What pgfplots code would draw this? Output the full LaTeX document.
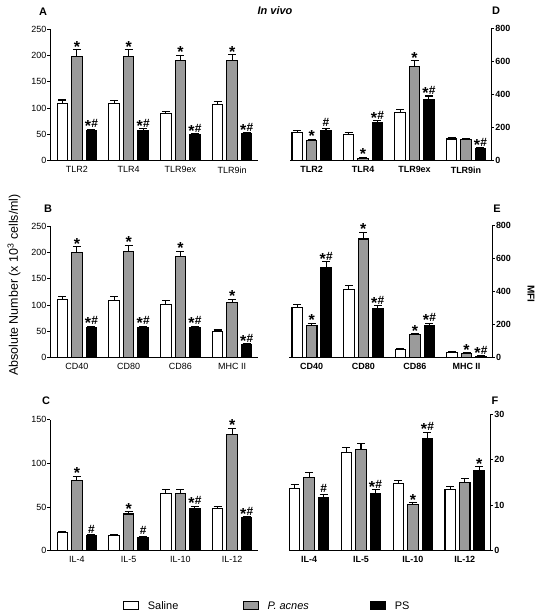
\documentclass[border=0pt]{standalone}
\usepackage{pgfplots}
\pgfplotsset{compat=1.18}
\usepackage{pgfplotstable}
\usepackage{fontspec}
\setmainfont{Liberation Sans}
\newcommand\fs[1]{\fontsize{#1}{#1}\selectfont}
\protected\def\st{\raisebox{-4bp}{\fontsize{16}{16}\selectfont\bfseries *}}
\protected\def\sh{{\fs{12}\bfseries\#}}
\protected\def\sa{\st\kern0.3bp\sh}
\definecolor{bgray}{RGB}{155,155,155}

\pgfplotsset{
 panel/.style={scale only axis, ymin=0, xtick={0,1,2,3}, x tick style={draw=none},
   tick align=outside, major tick length=2.5bp, axis line style={line width=0.8bp},
   y tick style={line width=0.8bp, black}, clip=false,
   /pgf/number format/assume math mode=true, axis x line*=bottom, xtick pos=bottom, xmax=3.5},
 lpanel/.style={panel, axis y line*=left, ytick pos=left, xmin=-0.52, width=208bp,
   tick label style={font=\fs{9}}, yticklabel style={inner xsep=1bp}},
 rpanel/.style={panel, axis y line*=right, ytick pos=right, yticklabel pos=right,
   tick label style={font=\bfseries\fs{9}}, yticklabel style={inner xsep=1bp}},
 bars/.style={ybar, bar width=10.5bp, bar shift=0pt, draw=black, line width=1.1bp,
   error bars/y dir=plus, error bars/y explicit,
   error bars/error bar style={line width=1.1bp,black},
   error bars/error mark options={rotate=90, line width=1.1bp, mark size=4bp, black},
   legend image code/.code={\draw[##1, line width=1bp] (0bp,-4bp) rectangle (15bp,4bp);}},
 annot/.style={forget plot, only marks, mark=none, black, nodes near coords,
   point meta=explicit symbolic,
   nodes near coords style={anchor=base, yshift=1.5bp, inner sep=0pt, font=\fs{12}, black}},
}

\pgfplotstableread{
x s se g ge b be
0 109 115.5 199 211 57 60
1 109 115 199 211 58 61
2 89 93 190 201 50 51.5
3 107 112 190 202 51 53
}\tabA
\pgfplotstableread{
x s se g ge b be
0 171 181 123 129 185 196
1 161 169 16 22 232 242
2 290 308 569 605 371 391
3 131 139 129 135 73 77
}\tabD
\pgfplotstableread{
x s se g ge b be
0 110 117 199 211 57 60
1 108 116 201 213 57 60
2 101 108 192 202 57 60
3 49 52.5 104 111 25 26.5
}\tabB
\pgfplotstableread{
x s se g ge b be
0 302 322 196 206 547 581
1 413 439 719 759 298 314
2 49 53 136 144 196 206
3 28 34 22 28 6 10
}\tabE
\pgfplotstableread{
x s se g ge b be
0 21 22.5 80 85 17 18
1 17 18 42 44.7 15.6 16.5
2 66 70 66 70 48 51
3 48 51 133 140 38 39
}\tabC
\pgfplotstableread{
x s se g ge b be
0 13.7 14.5 16.1 17.2 11.7 12.4
1 21.6 22.7 22.3 23.5 12.6 13.4
2 14.7 15.5 10.1 10.6 24.6 26
3 13.4 14.1 15 15.8 17.6 18.5
}\tabF

\newcommand\threebars[1]{%
 \addplot[bars, fill=white] table[x expr=\thisrow{x}-0.28, y=s, y error expr=\thisrow{se}-\thisrow{s}] {#1};
 \addplot[bars, fill=bgray] table[x=x, y=g, y error expr=\thisrow{ge}-\thisrow{g}] {#1};
 \addplot[bars, fill=black] table[x expr=\thisrow{x}+0.28, y=b, y error expr=\thisrow{be}-\thisrow{b}] {#1};
}

\begin{document}
\begin{tikzpicture}
\useasboundingbox (0bp,0bp) rectangle (537bp,-615bp);

% Panel A
\begin{axis}[lpanel, at={(50bp,-160.7bp)}, anchor=south west, height=131.4bp,
  ymax=250, ytick={0,50,100,150,200,250}, xticklabels={TLR2,TLR4,TLR9ex,TLR9in}]
\threebars{\tabA}
\addplot[annot] coordinates {(0,211)[\st] (1,211)[\st] (2,201)[\st] (3,202)[\st]
  (0.28,60)[\sa] (1.28,61)[\sa] (2.28,51.5)[\sa] (3.28,53)[\sa]};
\end{axis}

% Panel D
\begin{axis}[rpanel, at={(290bp,-160.7bp)}, anchor=south west, width=201.7bp, height=132.4bp,
  xmin=-0.42, ymax=800, ytick={0,200,400,600,800}, xticklabels={TLR2,TLR4,TLR9ex,TLR9in}]
\threebars{\tabD}
\addplot[annot] coordinates {(0,129)[\st] (1,22)[\st] (2,605)[\st]
  (0.28,196)[\sh] (1.28,242)[\sa] (2.28,391)[\sa] (3.28,77)[\sa]};
\end{axis}

% Panel B
\begin{axis}[lpanel, at={(50bp,-357.7bp)}, anchor=south west, height=131.7bp,
  ymax=250, ytick={0,50,100,150,200,250}, xticklabels={CD40,CD80,CD86,MHC II}]
\threebars{\tabB}
\addplot[annot] coordinates {(0,211)[\st] (1,213)[\st] (2,202)[\st] (3,111)[\st]
  (0.28,60)[\sa] (1.28,60)[\sa] (2.28,60)[\sa] (3.28,26.5)[\sa]};
\end{axis}

% Panel E
\begin{axis}[rpanel, at={(289bp,-357.3bp)}, anchor=south west, width=203.3bp, height=131.6bp,
  xmin=-0.44, ymax=800, ytick={0,200,400,600,800}, xticklabels={CD40,CD80,CD86,MHC II}]
\threebars{\tabE}
\addplot[annot] coordinates {(0,206)[\st] (1,759)[\st] (2,144)[\st] (3,28)[\st]
  (0.28,581)[\sa] (1.28,314)[\sa] (2.28,206)[\sa] (3.28,10)[\sa]};
\end{axis}

% Panel C
\begin{axis}[lpanel, at={(50bp,-550.7bp)}, anchor=south west, height=131bp,
  ymax=150, ytick={0,50,100,150}, xticklabels={IL-4,IL-5,IL-10,IL-12},
  legend style={draw=none, fill=none, at={(0.351,-0.422)}, anchor=west, legend columns=3,
    inner sep=0pt, nodes={inner sep=0pt, font=\fs{11}},
    /tikz/every odd column/.append style={column sep=8.7bp}},
  legend cell align=left]
\threebars{\tabC}
\addlegendentry{\makebox[95bp][l]{Saline}}
\addlegendentry{\makebox[102.6bp][l]{\itshape P. acnes}}
\addlegendentry{PS}
\addplot[annot] coordinates {(0,85)[\st] (1,44.7)[\st] (3,140)[\st]
  (0.28,18)[\sh] (1.28,16.5)[\sh] (2.28,51)[\sa] (3.28,39)[\sa]};
\end{axis}

% Panel F
\begin{axis}[rpanel, at={(292bp,-550.7bp)}, anchor=south west, width=198.7bp, height=136.4bp,
  xmin=-0.33, ymax=30, ytick={0,10,20,30}, xticklabels={IL-4,IL-5,IL-10,IL-12}]
\threebars{\tabF}
\addplot[annot] coordinates {(2,10.6)[\st]
  (0.28,12.4)[\sh] (1.28,13.4)[\sa] (2.28,26)[\sa] (3.28,18.5)[\st]};
\end{axis}

% texts
\node[font=\bfseries\itshape\fs{11}] at (275bp,-11bp) {In vivo};
\node[font=\bfseries\fs{11}] at (43bp,-11.5bp) {A};
\node[font=\bfseries\fs{11}] at (496bp,-11bp) {D};
\node[font=\bfseries\fs{11}] at (48bp,-209bp) {B};
\node[font=\bfseries\fs{11}] at (497bp,-208.7bp) {E};
\node[font=\bfseries\fs{11}] at (46bp,-401bp) {C};
\node[font=\bfseries\fs{11}] at (495bp,-401bp) {F};
\node[rotate=90, font=\fs{12.5}] at (14bp,-285bp) {Absolute Number (x 10\textsuperscript{3} cells/ml)};
\node[rotate=-90, font=\bfseries\fs{10}] at (531bp,-294bp) {MFI};
\end{tikzpicture}
\end{document}
